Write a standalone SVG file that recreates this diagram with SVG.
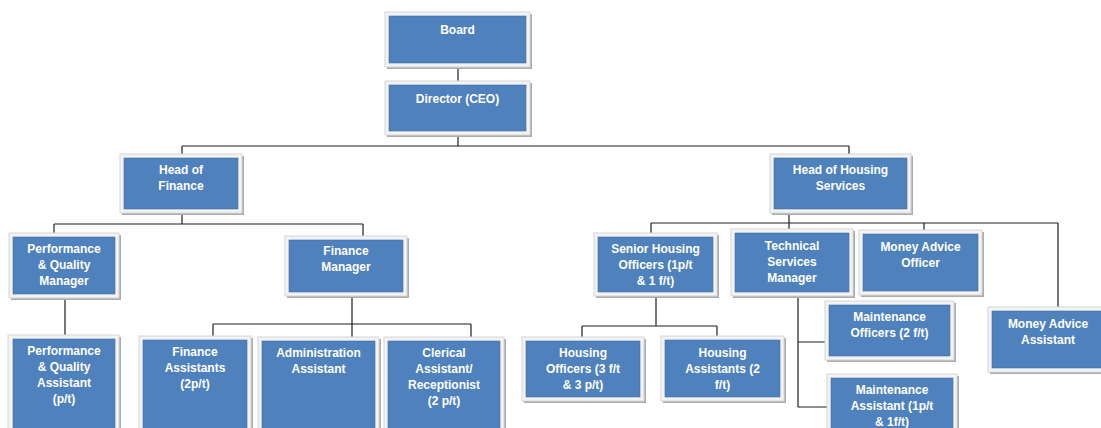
<svg xmlns="http://www.w3.org/2000/svg" width="1101" height="428" viewBox="0 0 1101 428">
<defs>
<style>
.sh{fill:#a9acb0}
.fr{fill:#f3f3f3;stroke:#d6d6d6;stroke-width:1}
.bx{fill:#4f81bd;stroke:#3f6fa6;stroke-width:0.6}
.t{font-family:"Liberation Sans",Arial,sans-serif;font-size:12px;font-weight:bold;fill:#ffffff;text-anchor:middle}
.c{stroke:#1e1e1e;stroke-width:1.2;fill:none}
</style>
</defs>
<rect width="1101" height="428" fill="#ffffff"/>
<g id="connectors">
<path class="c" d="M458,63V81M458,135V146M182,146H849M182,146V154M849,146V154"/>
<path class="c" d="M182,213V224M54,224H363M54,224V233M363,224V236M65,298V335M352,296V337M213,324H471M213,324V336M471,324V337"/>
<path class="c" d="M789,213V229M651,223H1058M651,223V233M924,223V230M1058,223V307"/>
<path class="c" d="M656,296V326M582,326H717M582,326V337M717,326V336"/>
<path class="c" d="M798,296V407M798,342H825M798,407H827"/>
</g>
<g id="board">
<rect class="sh" x="387" y="14" width="145" height="55"/><rect class="fr" x="385" y="12" width="145" height="55"/><rect class="bx" x="389" y="16" width="137" height="47"/>
<text class="t" x="457.5" y="34">Board</text>
</g>
<g id="director">
<rect class="sh" x="387" y="83" width="145" height="54"/><rect class="fr" x="385" y="81" width="145" height="54"/><rect class="bx" x="389" y="85" width="137" height="46"/>
<text class="t" x="457.5" y="103">Director (CEO)</text>
</g>
<g id="head-finance">
<rect class="sh" x="122" y="156" width="122" height="59"/><rect class="fr" x="120" y="154" width="122" height="59"/><rect class="bx" x="124" y="158" width="114" height="51"/>
<text class="t" x="181" y="174">Head of</text><text class="t" x="181" y="190">Finance</text>
</g>
<g id="pq-manager">
<rect class="sh" x="11" y="235" width="110" height="65"/><rect class="fr" x="9" y="233" width="110" height="65"/><rect class="bx" x="13" y="237" width="102" height="57"/>
<text class="t" x="64" y="253">Performance</text><text class="t" x="64" y="269">&amp; Quality</text><text class="t" x="64" y="285">Manager</text>
</g>
<g id="finance-manager">
<rect class="sh" x="287" y="238" width="122" height="60"/><rect class="fr" x="285" y="236" width="122" height="60"/><rect class="bx" x="289" y="240" width="114" height="52"/>
<text class="t" x="346" y="255">Finance</text><text class="t" x="346" y="271">Manager</text>
</g>
<g id="pq-assistant">
<rect class="sh" x="10" y="337" width="111" height="100"/><rect class="fr" x="8" y="335" width="111" height="100"/><rect class="bx" x="13" y="339" width="102" height="100"/>
<text class="t" x="64" y="355">Performance</text><text class="t" x="64" y="371">&amp; Quality</text><text class="t" x="64" y="387">Assistant</text><text class="t" x="64" y="403">(p/t)</text>
</g>
<g id="finance-assistants">
<rect class="sh" x="141" y="338" width="112" height="100"/><rect class="fr" x="139" y="336" width="112" height="100"/><rect class="bx" x="143" y="340" width="104" height="100"/>
<text class="t" x="195" y="356">Finance</text><text class="t" x="195" y="372">Assistants</text><text class="t" x="195" y="388">(2p/t)</text>
</g>
<g id="admin-assistant">
<rect class="sh" x="260" y="339" width="121" height="100"/><rect class="fr" x="258" y="337" width="121" height="100"/><rect class="bx" x="262" y="341" width="113" height="100"/>
<text class="t" x="318.5" y="357">Administration</text><text class="t" x="318.5" y="373">Assistant</text>
</g>
<g id="clerical">
<rect class="sh" x="386" y="339" width="120" height="100"/><rect class="fr" x="384" y="337" width="120" height="100"/><rect class="bx" x="388" y="341" width="112" height="100"/>
<text class="t" x="444" y="357">Clerical</text><text class="t" x="444" y="373">Assistant/</text><text class="t" x="444" y="389">Receptionist</text><text class="t" x="444" y="405">(2 p/t)</text>
</g>
<g id="senior-housing">
<rect class="sh" x="596" y="235" width="123" height="63"/><rect class="fr" x="594" y="233" width="123" height="63"/><rect class="bx" x="598" y="237" width="115" height="55"/>
<text class="t" x="655.5" y="253">Senior Housing</text><text class="t" x="655.5" y="269">Officers (1p/t</text><text class="t" x="655.5" y="285">&amp; 1 f/t)</text>
</g>
<g id="housing-officers">
<rect class="sh" x="524" y="339" width="122" height="64"/><rect class="fr" x="522" y="337" width="122" height="64"/><rect class="bx" x="526" y="341" width="114" height="56"/>
<text class="t" x="583" y="357">Housing</text><text class="t" x="583" y="373">Officers (3 f/t</text><text class="t" x="583" y="389">&amp; 3 p/t)</text>
</g>
<g id="housing-assistants">
<rect class="sh" x="663" y="338" width="123" height="65"/><rect class="fr" x="661" y="336" width="123" height="65"/><rect class="bx" x="665" y="340" width="115" height="57"/>
<text class="t" x="722.5" y="357">Housing</text><text class="t" x="722.5" y="373">Assistants (2</text><text class="t" x="722.5" y="389">f/t)</text>
</g>
<g id="head-housing">
<rect class="sh" x="772" y="156" width="141" height="59"/><rect class="fr" x="770" y="154" width="141" height="59"/><rect class="bx" x="774" y="158" width="133" height="51"/>
<text class="t" x="840.5" y="174">Head of Housing</text><text class="t" x="840.5" y="190">Services</text>
</g>
<g id="technical-services">
<rect class="sh" x="733" y="231" width="122" height="67"/><rect class="fr" x="731" y="229" width="122" height="67"/><rect class="bx" x="735" y="233" width="114" height="59"/>
<text class="t" x="792" y="250">Technical</text><text class="t" x="792" y="266">Services</text><text class="t" x="792" y="282">Manager</text>
</g>
<g id="money-advice-officer">
<rect class="sh" x="861" y="232" width="123" height="65"/><rect class="fr" x="859" y="230" width="123" height="65"/><rect class="bx" x="863" y="234" width="115" height="57"/>
<text class="t" x="920.5" y="251">Money Advice</text><text class="t" x="920.5" y="267">Officer</text>
</g>
<g id="maintenance-officers">
<rect class="sh" x="827" y="303" width="129" height="59"/><rect class="fr" x="825" y="301" width="129" height="59"/><rect class="bx" x="829" y="305" width="121" height="51"/>
<text class="t" x="889.5" y="321">Maintenance</text><text class="t" x="889.5" y="337">Officers (2 f/t)</text>
</g>
<g id="maintenance-assistant">
<rect class="sh" x="829" y="376" width="130" height="70"/><rect class="fr" x="827" y="374" width="130" height="70"/><rect class="bx" x="831" y="378" width="122" height="62"/>
<text class="t" x="892" y="394">Maintenance</text><text class="t" x="892" y="410">Assistant (1p/t</text><text class="t" x="892" y="426">&amp; 1f/t)</text>
</g>
<g id="money-advice-assistant">
<rect class="sh" x="990" y="309" width="130" height="65"/><rect class="fr" x="988" y="307" width="130" height="65"/><rect class="bx" x="992" y="311" width="122" height="57"/>
<text class="t" x="1048" y="328">Money Advice</text><text class="t" x="1048" y="344">Assistant</text>
</g>
</svg>
